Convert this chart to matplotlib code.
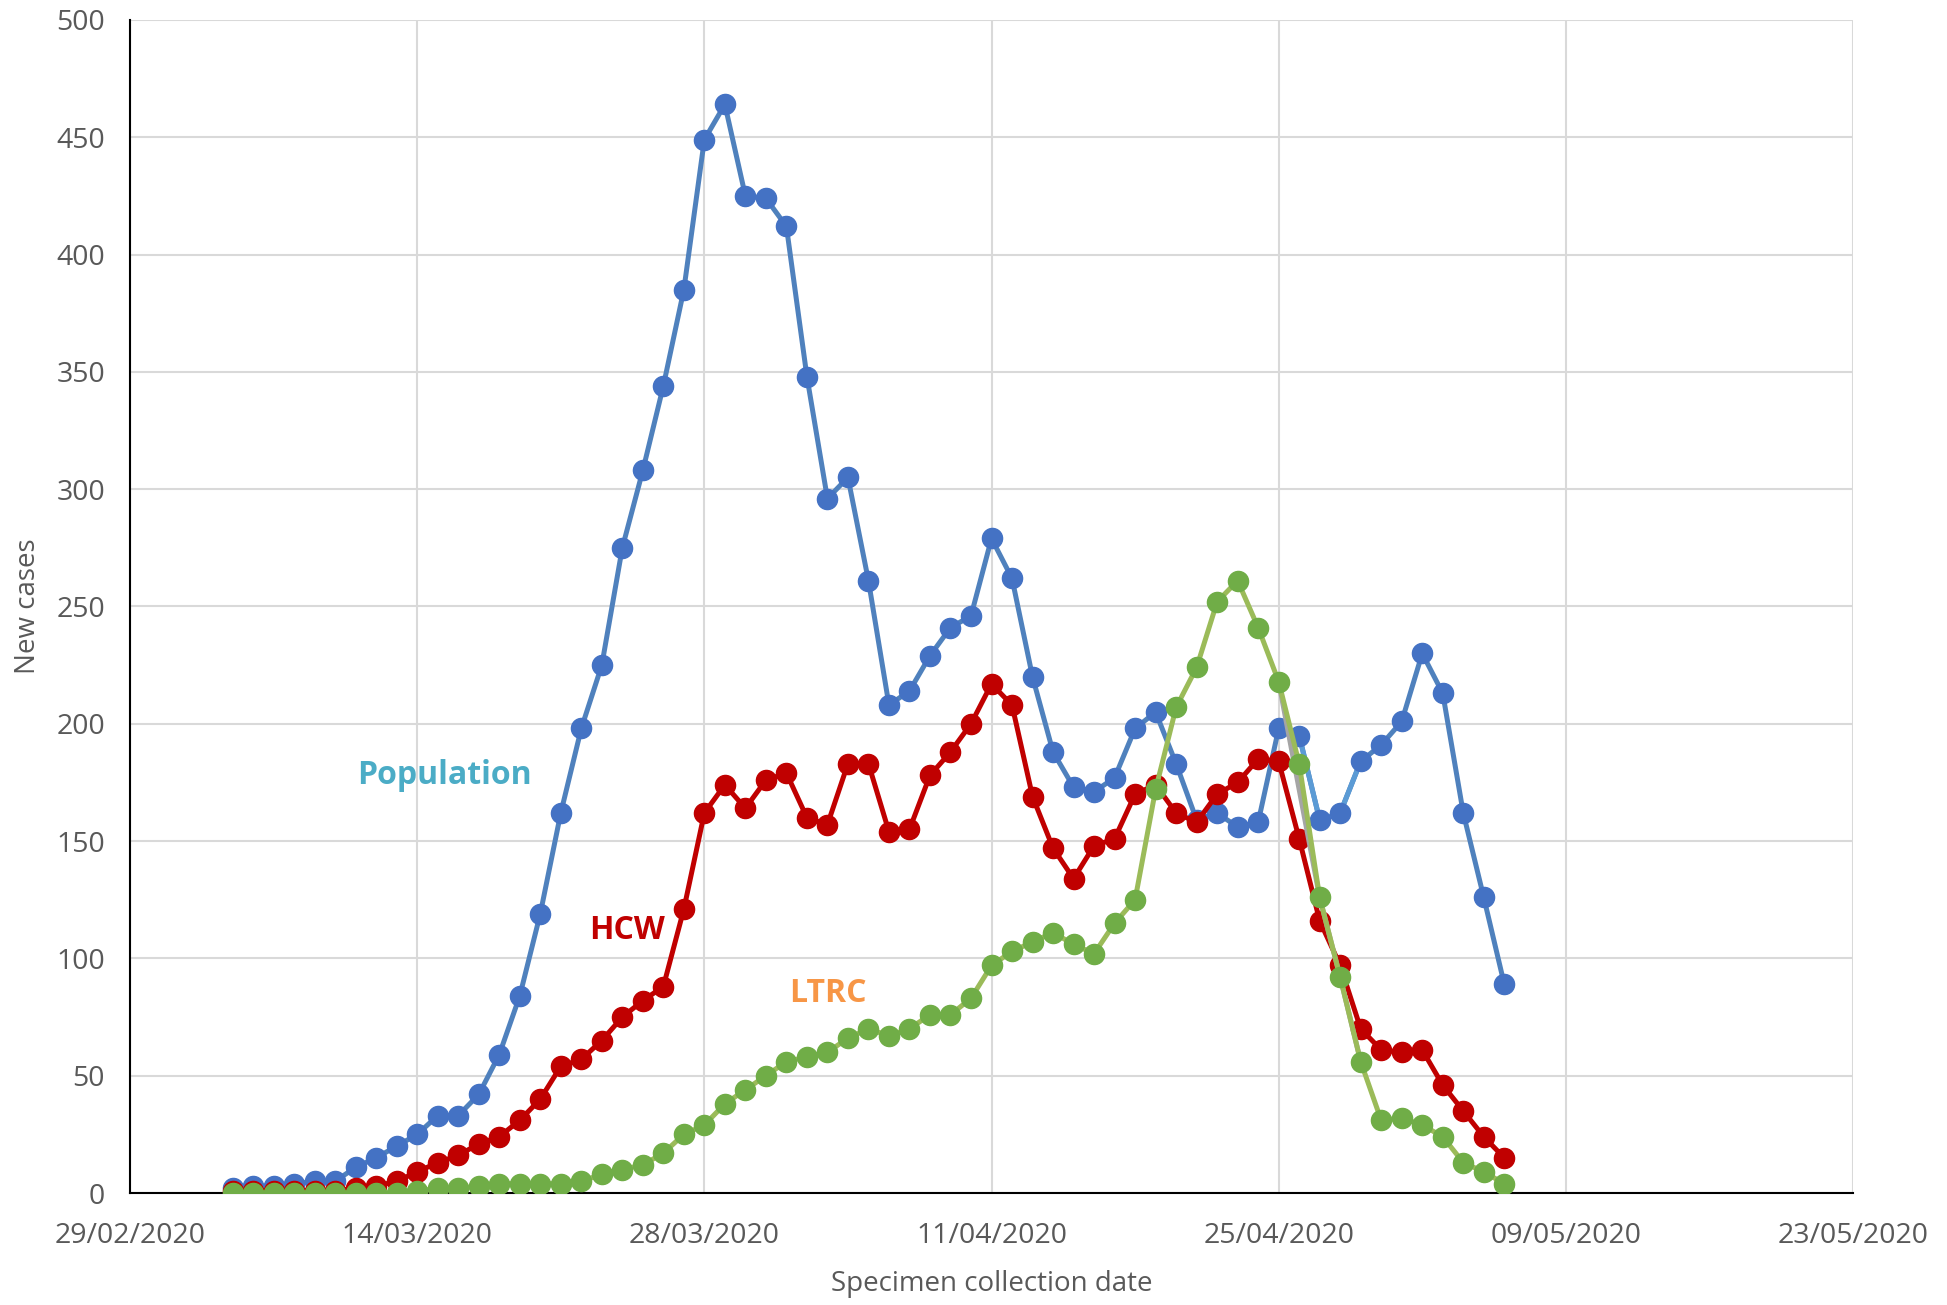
import numpy as np
import pandas as pd
import matplotlib
matplotlib.use('Agg')
import matplotlib.pyplot as plt
import matplotlib.dates as mdates

plt.rcParams['font.family'] = ['Open Sans', 'DejaVu Sans']

# daily series, 05/03/2020 .. 06/05/2020
dates = pd.date_range('2020-03-05', '2020-05-06', freq='D')

population = [2, 3, 3, 4, 5, 5, 11, 15, 20, 25, 33, 33, 42, 59, 84, 119, 162, 198, 225, 275,
              308, 344, 385, 449, 464, 425, 424, 412, 348, 296, 305, 261, 208, 214, 229, 241,
              246, 279, 262, 220, 188, 173, 171, 177, 198, 205, 183, 159, 162, 156, 158, 198,
              195, 159, 162, 184, 191, 201, 230, 213, 162, 126, 89]

hcw = [1, 1, 1, 1, 1, 1, 2, 3, 5, 9, 13, 16, 21, 24, 31, 40, 54, 57, 65, 75,
       82, 88, 121, 162, 174, 164, 176, 179, 160, 157, 183, 183, 154, 155, 178, 188,
       200, 217, 208, 169, 147, 134, 148, 151, 170, 174, 162, 158, 170, 175, 185, 184,
       151, 116, 97, 70, 61, 60, 61, 46, 35, 24, 15]

ltrc = [0, 0, 0, 0, 0, 0, 0, 0, 0, 1, 2, 2, 3, 4, 4, 4, 4, 5, 8, 10,
        12, 17, 25, 29, 38, 44, 50, 56, 58, 60, 66, 70, 67, 70, 76, 76,
        83, 97, 103, 107, 111, 106, 102, 115, 125, 172, 207, 224, 252, 261, 241, 218,
        183, 126, 92, 56, 31, 32, 29, 24, 13, 9, 4]

# grey overlay segment seen in the source chart
grey_dates = pd.to_datetime(['2020-04-25', '2020-04-27', '2020-04-28', '2020-04-29'])
grey_vals = [218, 126, 92, 56]

xticks = pd.date_range('2020-02-29', '2020-05-23', freq='14D')
yticks = list(range(0, 501, 50))

fig = plt.figure(figsize=(19.47, 13.05), dpi=100)
ax = fig.add_axes([0.0668, 0.0858, 0.8849, 0.8989])

lw = 3.6
ms = 14.5

ax.plot(dates, population, '-', color='#4F81BD', lw=lw, zorder=3)
ax.plot(dates[52:56], population[52:56], '-', color='#5B9BD5', lw=lw, zorder=3)
ax.plot(dates, population, 'o', color='#4472C4', ms=ms, zorder=4)

ax.plot(dates, hcw, '-', color='#C00000', lw=lw, zorder=5)
ax.plot(dates, hcw, 'o', color='#C00000', ms=ms, zorder=6)

ax.plot(grey_dates, grey_vals, '-', color='#A5A5A5', lw=lw, zorder=7)

ax.plot(dates, ltrc, '-', color='#9BBB59', lw=lw, zorder=8)
ax.plot(dates, ltrc, 'o', color='#70AD47', ms=ms, zorder=9)

ax.set_xlim(xticks[0], xticks[-1])
ax.set_ylim(0, 500)
ax.set_xticks(xticks)
ax.xaxis.set_major_formatter(mdates.DateFormatter('%d/%m/%Y'))
ax.set_yticks(yticks)

ax.grid(True, color='#D9D9D9', lw=1.5, zorder=0)
ax.set_axisbelow(True)
for s in ['top', 'right']:
    ax.spines[s].set_visible(False)
ax.spines['left'].set_color('black')
ax.spines['left'].set_linewidth(1.5)
ax.spines['bottom'].set_color('black')
ax.spines['bottom'].set_linewidth(1.5)
ax.tick_params(length=0, labelsize=20.5, colors='#595959', pad=18)
ax.tick_params(axis='x', pad=21)

ax.set_xlabel('Specimen collection date', fontsize=20, color='#595959', labelpad=14)
ax.set_ylabel('New cases', fontsize=20, color='#595959', labelpad=10)

ax.text(pd.Timestamp('2020-03-15 08:00'), 178, 'Population', color='#4BACC6',
        fontsize=23, fontweight='bold', ha='center', va='center')
ax.text(pd.Timestamp('2020-03-24 05:00'), 112, 'HCW', color='#C00000',
        fontsize=23, fontweight='bold', ha='center', va='center')
ax.text(pd.Timestamp('2020-04-03'), 85, 'LTRC', color='#F79646',
        fontsize=23, fontweight='bold', ha='center', va='center')

fig.savefig('out.png', dpi=100)
